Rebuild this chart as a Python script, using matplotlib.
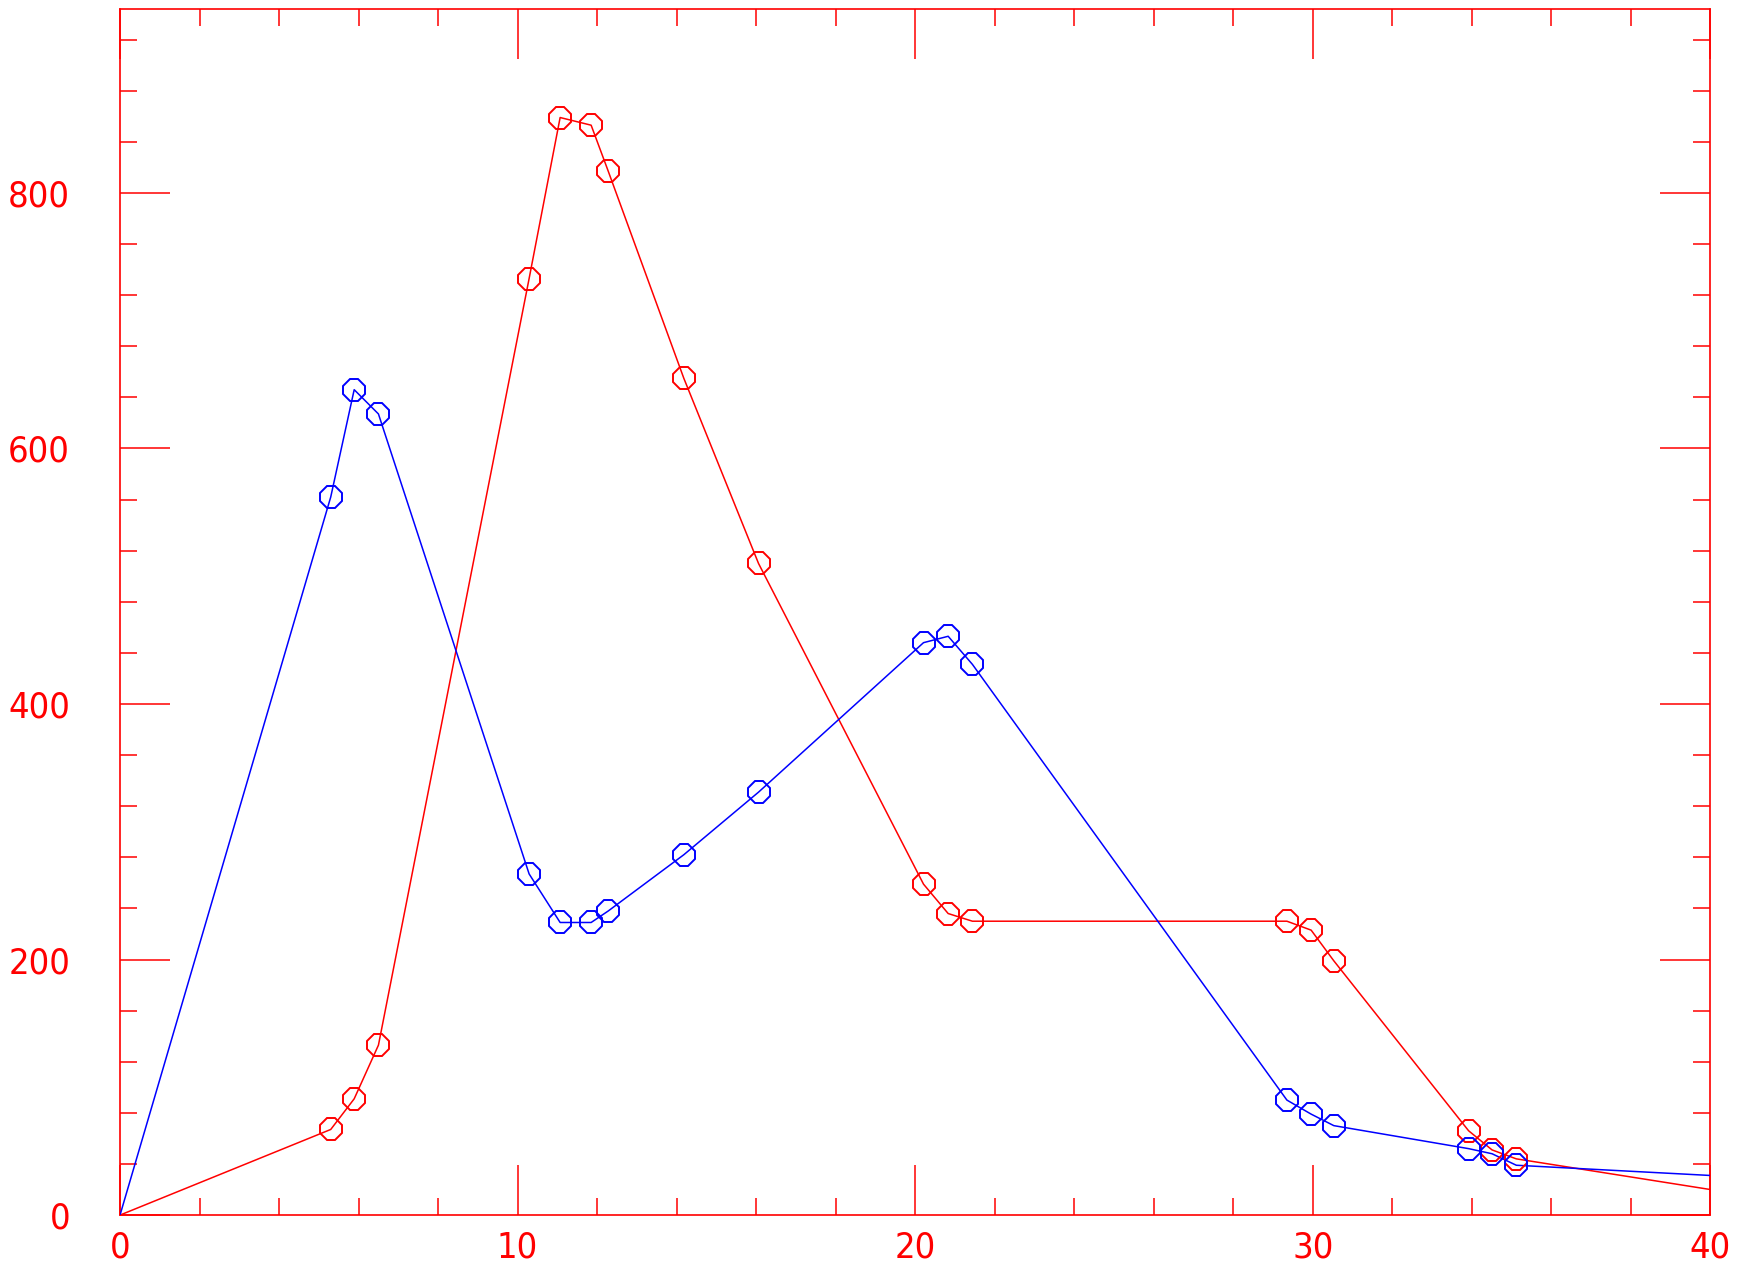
import matplotlib
matplotlib.use("Agg")
import matplotlib.pyplot as plt
from matplotlib.ticker import MultipleLocator

# Data
x_vals = [0, 5.30, 5.89, 6.50, 10.29, 11.07, 11.85, 12.28, 14.18, 16.06,
          20.21, 20.83, 21.44, 29.35, 29.96, 30.53, 33.92, 34.51, 35.12, 40]
red_vals = [0, 67, 91, 133, 733, 859, 853, 817, 655, 510,
            259, 236, 230, 230, 223, 199, 66, 51, 44, 20]
blue_vals = [0, 562, 646, 627, 267, 229, 229, 238, 282, 331,
             448, 453, 431, 90, 79, 70, 52, 48, 39, 31]
x_ticks = [0, 10, 20, 30, 40]
y_ticks = [0, 200, 400, 600, 800]

fig = plt.figure(figsize=(17.47, 12.75), dpi=100)
ax = fig.add_axes([0.0687, 0.047, 0.979 - 0.0687, 0.993 - 0.047])

lw = 1.1
for vals, col in ((red_vals, "#ff0000"), (blue_vals, "#0000ff")):
    ax.plot(x_vals, vals, color=col, lw=lw, zorder=3)
    ax.plot(x_vals[1:-1], vals[1:-1], linestyle="none", marker="8",
            markersize=16.5, markerfacecolor="none", markeredgecolor=col,
            markeredgewidth=1.4, zorder=4)

ax.set_xlim(0, 40)
ax.set_ylim(0, 944)
ax.set_xticks(x_ticks)
ax.set_yticks(y_ticks)
ax.set_xticklabels([str(t) for t in x_ticks])
ax.set_yticklabels([str(t) for t in y_ticks])
ax.xaxis.set_minor_locator(MultipleLocator(2))
ax.yaxis.set_minor_locator(MultipleLocator(40))

for s in ax.spines.values():
    s.set_color("#ff0000")
    s.set_linewidth(1.2)

ax.tick_params(which="both", direction="in", top=True, right=True,
               color="#ff0000", width=1.1, labelcolor="#ff0000")
for lab in ax.get_xticklabels() + ax.get_yticklabels():
    lab.set_fontsize(26)
    lab.set_fontstretch("condensed")
    lab.set_fontweight("light")
ax.tick_params(which="major", length=36)
ax.tick_params(which="minor", length=12)
ax.tick_params(axis="y", which="major", pad=36)
ax.tick_params(axis="x", which="major", pad=11)

fig.savefig("out.png", dpi=100)
